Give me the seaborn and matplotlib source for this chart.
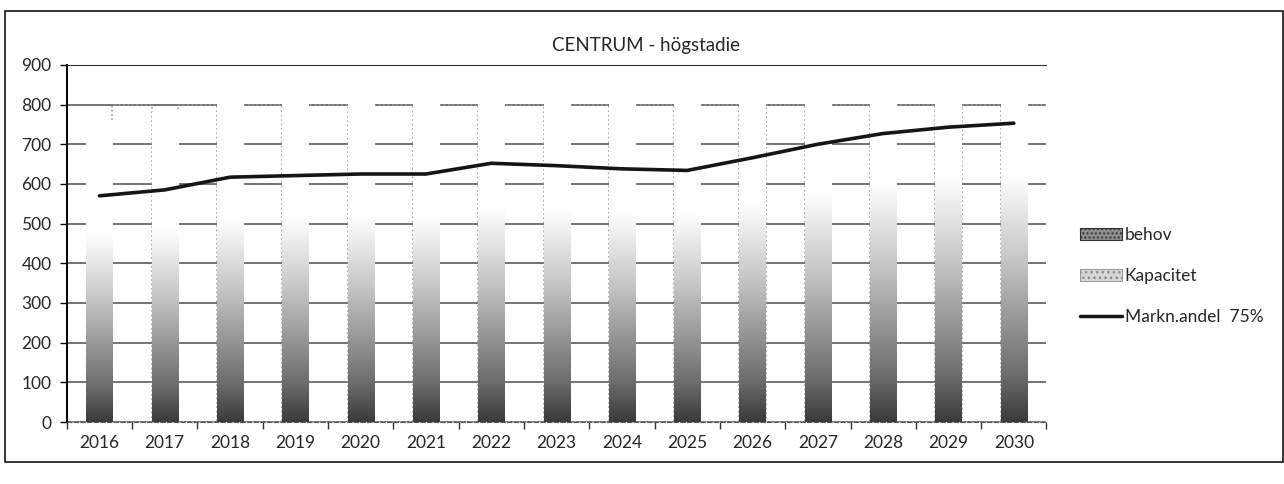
import numpy as np
import matplotlib
matplotlib.use("Agg")
import matplotlib.pyplot as plt
from matplotlib.colors import LinearSegmentedColormap
from matplotlib.patches import Patch, Rectangle
from matplotlib.lines import Line2D
from matplotlib.ticker import FixedLocator
import seaborn as sns

sns.set_style("white")
plt.rcParams["font.family"] = ["Lato", "DejaVu Sans"]

# data
years = ["2016", "2017", "2018", "2019", "2020", "2021", "2022", "2023",
         "2024", "2025", "2026", "2027", "2028", "2029", "2030"]
markn_andel = [570, 585, 617, 621, 625, 625, 652, 646, 638, 634, 666, 700, 727, 743, 753]
behov = [760, 780, 823, 828, 833, 833, 869, 861, 851, 845, 888, 933, 969, 991, 1004]
kapacitet = [800, 800, 800, 800, 800, 800, 800, 800, 800, 800, 800, 800, 800, 800, 800]
yticks = [0, 100, 200, 300, 400, 500, 600, 700, 800, 900]

fig = plt.figure(figsize=(12.84, 4.84), dpi=100)
ax = fig.add_axes([0.052, 0.128, 0.763, 0.738])

# gridlines behind everything
ax.set_yticks(yticks)
ax.yaxis.grid(True, color="#4d4d4d", lw=1.1, zorder=0)
ax.set_axisbelow(True)

# Kapacitet: open dotted columns, right of each behov column
sns.barplot(x=years, y=kapacitet, ax=ax, width=0.6, facecolor="none",
            edgecolor="#9a9a9a", linestyle=":", linewidth=1.2, zorder=1)
kap_patches = list(ax.patches)
for p in kap_patches:
    p.set_x(p.get_x() + 0.5)

# behov: gradient columns, dark at the bottom, white further up
sns.barplot(x=years, y=behov, ax=ax, width=0.4, color="white",
            edgecolor="none", zorder=2)
beh_patches = [p for p in ax.patches if p not in kap_patches]
cmap = LinearSegmentedColormap.from_list(
    "behov", [(0, "#3a3a3a"), (0.12, "#6e6e6e"), (0.4, "#c4c4c4"),
              (0.62, "#ffffff"), (1, "#ffffff")])
grad = np.linspace(0, 1, 256).reshape(-1, 1)
for p in beh_patches:
    x0, w, h = p.get_x(), p.get_width(), p.get_height()
    im = ax.imshow(grad, cmap=cmap, origin="lower", aspect="auto",
                   extent=[x0, x0 + w, 0, h], zorder=2)
    im.set_clip_path(p)
    p.set_facecolor("none")

# Markn.andel 75% line
sns.pointplot(x=years, y=markn_andel, ax=ax, color="#151515", markers="none",
              linewidth=2.6, errorbar=None, zorder=4)

ax.set_xlim(-0.5, len(years) - 0.5)
ax.set_ylim(0, 900)
ax.set_xlabel("")
ax.set_ylabel("")

ax.tick_params(axis="y", which="major", direction="out", length=5, width=1,
               left=True, labelsize=12.5, pad=6, color="k")
ax.tick_params(axis="x", which="major", length=0, labelsize=12.5, pad=9)
ax.xaxis.set_minor_locator(FixedLocator(np.arange(-0.5, len(years), 1)))
ax.tick_params(axis="x", which="minor", direction="out", length=5, width=1,
               bottom=True, color="#333333")

ax.spines["right"].set_visible(False)
ax.spines["top"].set_color("#333333")
ax.spines["left"].set_color("k")
ax.spines["left"].set_linewidth(1.4)
ax.spines["bottom"].set_color("#555555")
ax.spines["bottom"].set_linestyle((0, (4, 2)))

fig.text(0.503, 0.905, "CENTRUM - högstadie", ha="center", va="center",
         fontsize=13.5)

handles = [
    Patch(facecolor="#8f8f8f", edgecolor="#333333", hatch="....", lw=0.8),
    Patch(facecolor="#d6d6d6", edgecolor="#888888", hatch="...", lw=0.6),
    Line2D([0], [0], color="#151515", lw=2.5),
]
fig.legend(handles, ["behov", "Kapacitet", "Markn.andel  75%"],
           loc="center left", bbox_to_anchor=(0.836, 0.43), frameon=False,
           fontsize=12.5, labelspacing=1.45, handlelength=2.4,
           handletextpad=0.15, borderaxespad=0)

fig.add_artist(Rectangle((0.004, 0.045), 0.995, 0.932, transform=fig.transFigure,
                         fill=False, ec="k", lw=1.1))

fig.savefig("out.png", dpi=100)
